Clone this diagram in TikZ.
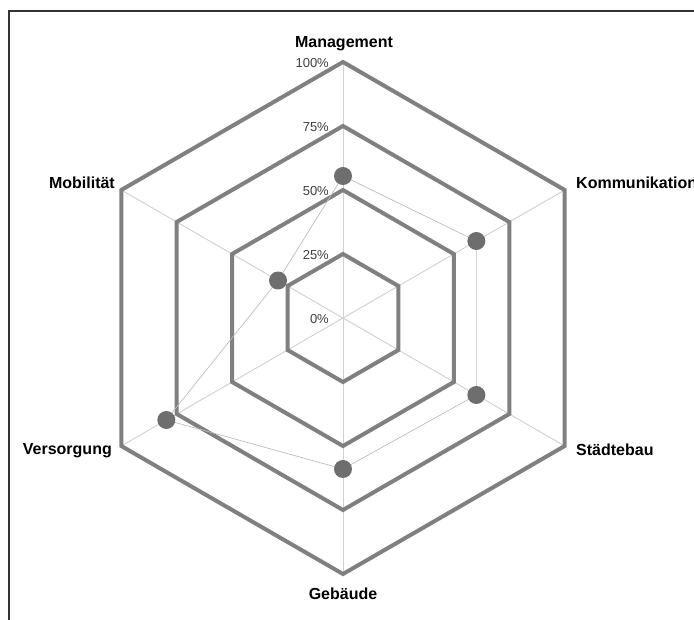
\documentclass[tikz,border=0pt]{standalone}
\usepackage{fontspec}
\setmainfont{Liberation Sans}

\definecolor{ringgray}{HTML}{808080}
\definecolor{spokegray}{HTML}{D0D0D0}
\definecolor{seriesgray}{HTML}{BDBDBD}
\definecolor{dotgray}{HTML}{6E6E6E}
\definecolor{pctgray}{HTML}{404040}
\definecolor{framegray}{HTML}{333333}

\begin{document}
\begin{tikzpicture}[x=1pt,y=1pt,
    ring/.style={line width=4pt, ringgray},
    spoke/.style={line width=0.9pt, spokegray},
    series/.style={line width=0.7pt, seriesgray},
    dot/.style={circle, fill=dotgray, minimum size=18pt, inner sep=0pt},
    axislabel/.style={font=\fontsize{16}{19}\selectfont\bfseries, inner sep=0pt},
    pctlabel/.style={font=\fontsize{13}{15}\selectfont, text=pctgray, inner sep=0pt, anchor=base east}]

    % Canvas (content cut at the page edge)
    \clip (-343,-302) rectangle (351,318);
    \fill[white] (-343,-302) rectangle (351,318);

    % Frame
    \draw[framegray, line width=1.3pt] (-334,-302) -- (-334,307) -- (351,307);

    % Axes
    \coordinate (c) at (0,0);
    \foreach \a/\n in {90/M, 30/K, -30/S, -90/G, -150/V, 150/Mo}
        \coordinate (ax\n) at (\a:256);
    \foreach \n in {M, K, S, G, V, Mo}
        \draw[spoke] (c) -- (ax\n);

    % Rings 25% .. 100%
    \foreach \r in {64, 128, 192, 256}
        \draw[ring] (90:\r) -- (30:\r) -- (-30:\r) -- (-90:\r) -- (-150:\r) -- (150:\r) -- cycle;

    % Percent labels
    \foreach \p/\r in {0/0, 25/64, 50/128, 75/192, 100/256}
        \node[pctlabel] (pct\p) at (-14,{\r-6}) {\p\%};

    % Data series
    \coordinate (dM) at (90:142);
    \coordinate (dK) at (30:154);
    \coordinate (dS) at (-30:154);
    \coordinate (dG) at (-90:151);
    \coordinate (dV) at (-150:204);
    \coordinate (dMo) at (150:75);
    \draw[series] (dM) -- (dK) -- (dS) -- (dG) -- (dV) -- (dMo) -- cycle;
    \foreach \n in {M, K, S, G, V, Mo}
        \node[dot] (p\n) at (d\n) {};

    % Axis labels
    \node[axislabel, anchor=base] (lM) at (1,270) {Management};
    \node[axislabel, anchor=base west] (lK) at (233,129) {Kommunikation};
    \node[axislabel, anchor=base west] (lS) at (233,-138) {Städtebau};
    \node[axislabel, anchor=base] (lG) at (0,-282) {Gebäude};
    \node[axislabel, anchor=base east] (lV) at (-231,-137) {Versorgung};
    \node[axislabel, anchor=base east] (lMo) at (-228,129) {Mobilität};
\end{tikzpicture}
\end{document}
